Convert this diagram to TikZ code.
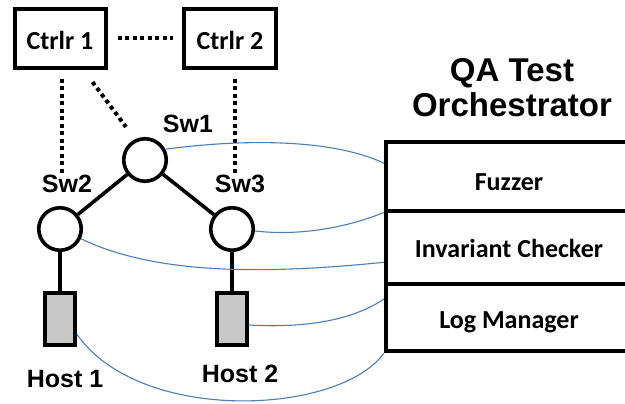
\documentclass[tikz,border=0pt]{standalone}
\usepackage{fontspec}
\setmainfont{Liberation Sans}
\newfontfamily\calib{Carlito}
\usetikzlibrary{calc}
\definecolor{linkblue}{RGB}{74,126,187}
\definecolor{hostgray}{RGB}{200,200,200}
\begin{document}
\begin{tikzpicture}[x=1pt,y=-1pt,
 ctrlbox/.style={draw, line width=4pt, minimum width=91pt, minimum height=59pt, inner sep=0pt, text height=23pt, text depth=0pt, font=\calib\bfseries\fontsize{26}{30}\selectfont},
 switch/.style={draw, circle, line width=3.6pt, minimum size=42.5pt, inner sep=0pt},
 hostbox/.style={draw, line width=3.8pt, fill=hostgray, minimum width=29.5pt, minimum height=52.5pt, inner sep=0pt},
 lbl/.style={anchor=base, inner sep=0pt, font=\bfseries\fontsize{25}{30}\selectfont},
 modbox/.style={draw, line width=4pt, minimum width=246pt, inner sep=0pt, text depth=0pt, font=\calib\bfseries\fontsize{26}{30}\selectfont},
 dotline/.style={line width=4pt, dash pattern=on 4pt off 3.5pt},
 wire/.style={line width=3.6pt},
 link/.style={linkblue, line width=1.1pt}
]
\useasboundingbox (0,0) rectangle (625,404);
\clip (0,0) rectangle (625,404);
% controllers
\node[ctrlbox] (c1) at (60,38.5) {Ctrlr 1};
\node[ctrlbox, minimum width=92pt] (c2) at (230,38.5) {Ctrlr 2};
% switches
\node[switch] (sw1) at (145,160) {};
\node[switch] (sw2) at (60,229) {};
\node[switch] (sw3) at (232,229) {};
% hosts
\node[hostbox] (h1) at (60,319) {};
\node[hostbox] (h2) at (232,319) {};
% labels
\node[lbl] (sw1l) at (188,132) {Sw1};
\node[lbl] (sw2l) at (67,193) {Sw2};
\node[lbl] (sw3l) at (240,193) {Sw3};
\node[lbl] (h1l) at (65,387) {Host 1};
\node[lbl] (h2l) at (240,382) {Host 2};
% orchestrator
\node[align=center, inner sep=0pt, font=\bfseries\fontsize{33}{35}\selectfont] (qa) at (512,87.5) {QA Test\\Orchestrator};
\node[modbox, minimum height=68.5pt, text height=27.5pt] (fz) at (509,176.25) {Fuzzer};
\node[modbox, minimum height=73.5pt, text height=21.5pt] (inv) at (509,247.25) {Invariant Checker};
\node[modbox, minimum height=67pt, text height=21pt] (lg) at (509,317.5) {Log Manager};
% dotted control links
\draw[dotline, shorten <=10pt, shorten >=9pt] (c1) -- (c2);
\draw[dotline] ($(c1.south)+(2,9)$) -- ($(sw2l.north)+(-5,-2)$);
\draw[dotline] ($(c1.south east)+(-15,12)$) -- ($(sw1)+(-19,-33)$);
\draw[dotline] ($(c2.south)+(5,9)$) -- ($(sw3l.north)+(-5,-2)$);
% data links
\draw[wire] (sw1) -- (sw2);
\draw[wire] (sw1) -- (sw3);
\draw[wire] (sw2) -- (h1);
\draw[wire] (sw3) -- (h2);
% monitoring links
\draw[link] (sw1.28) .. controls (250,138) and (335,140) .. ([yshift=13pt]fz.west);
\draw[link] (sw3.-5) .. controls (300,236) and (345,228) .. (fz.south west);
\draw[link] (sw2.-25) .. controls (150,272) and (250,276) .. ([yshift=-15pt]inv.west);
\draw[link] ([yshift=-6pt]h2.east) .. controls (300,328) and (350,322) .. ([yshift=18.5pt]lg.west);
\draw[link] ([yshift=-15pt]h1.east) .. controls (140,425) and (340,415) .. (lg.south west);
\end{tikzpicture}
\end{document}
